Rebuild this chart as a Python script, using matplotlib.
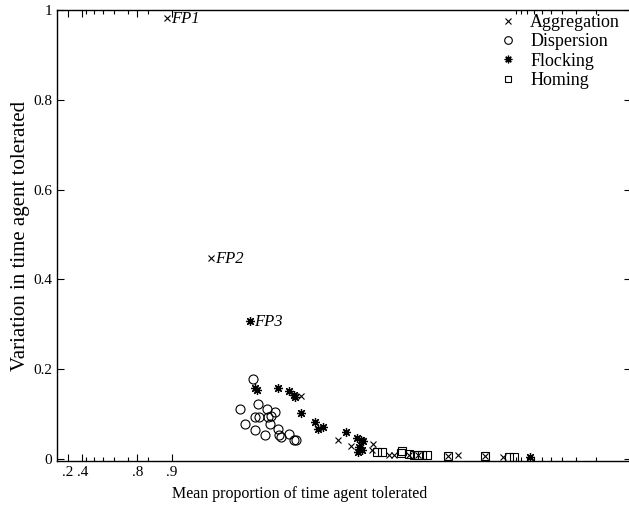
import matplotlib
matplotlib.use("Agg")
import matplotlib.pyplot as plt
import numpy as np
from matplotlib.lines import Line2D

plt.rcParams['font.family'] = ['Liberation Serif', 'DejaVu Serif']

# Aggregation (x)
agg_x = [0.890, 0.9546, 0.99257, 0.99644, 0.99723, 0.99822, 0.99818, 0.99872,
         0.99883, 0.999136, 0.999279, 0.999608, 0.999676, 0.999813, 0.999869]
agg_y = [0.982, 0.448, 0.140, 0.041, 0.029, 0.033, 0.020, 0.009,
         0.009, 0.009, 0.008, 0.007, 0.009, 0.007, 0.005]

# Dispersion (o)
disp_x = [0.9802, 0.9821, 0.9743, 0.9851, 0.9874, 0.9813, 0.9827, 0.9855, 0.9864,
          0.9770, 0.9861, 0.9813, 0.9881, 0.9904, 0.9847, 0.9883, 0.9888, 0.9913, 0.9918]
disp_y = [0.178, 0.121, 0.110, 0.110, 0.104, 0.093, 0.093, 0.093, 0.095,
          0.078, 0.077, 0.063, 0.066, 0.056, 0.052, 0.054, 0.048, 0.042, 0.042]

# Flocking (*)
flock_x = [0.9793, 0.9811, 0.9818, 0.9881, 0.9904, 0.9913, 0.9915, 0.99257, 0.99432,
           0.99469, 0.99516, 0.99698, 0.99758, 0.99773, 0.99784, 0.99765, 0.99781,
           0.99763, 0.999924]
flock_y = [0.307, 0.157, 0.154, 0.157, 0.151, 0.143, 0.137, 0.102, 0.082,
           0.066, 0.070, 0.060, 0.046, 0.042, 0.039, 0.026, 0.020, 0.014, 0.004]

# Homing (square)
hom_x = [0.99838, 0.99853, 0.99899, 0.99902, 0.999142, 0.999224, 0.999284,
         0.999344, 0.999407, 0.999608, 0.999813, 0.999885, 0.999895]
hom_y = [0.015, 0.016, 0.013, 0.018, 0.011, 0.009, 0.009,
         0.009, 0.009, 0.007, 0.007, 0.005, 0.005]

fp_labels = ['FP1', 'FP2', 'FP3']
fp_x = [agg_x[0], agg_x[1], flock_x[0]]
fp_y = [agg_y[0], agg_y[1], flock_y[0]]

xticks = [0.2, 0.4, 0.8, 0.9]
xtick_labels = ['.2', '.4', '.8', '.9']
yticks = [0, 0.2, 0.4, 0.6, 0.8, 1]
ytick_labels = ['0', '0.2', '0.4', '0.6', '0.8', '1']


def fwd(x):
    x = np.clip(np.asarray(x, dtype=float), None, 1 - 1e-12)
    return -np.log10(1 - x)


def inv(t):
    return 1 - 10 ** (-np.asarray(t, dtype=float))


W, H = 629, 508
fig = plt.figure(figsize=(W / 100, H / 100), dpi=100)
ax = fig.add_axes([57 / W, 47 / H, 574 / W, 451 / H])
ax.set_xscale('function', functions=(fwd, inv))

ast = (8, 2, 0)
ax.plot(agg_x, agg_y, 'x', color='k', ms=4.5, mew=0.8, ls='none')
ax.plot(disp_x, disp_y, 'o', mfc='none', mec='k', ms=6.5, mew=0.8, ls='none')
ax.plot(flock_x, flock_y, marker=ast, color='k', ms=6.5, mew=0.9, ls='none')
ax.plot(hom_x, hom_y, 's', mfc='none', mec='k', ms=5.5, mew=0.8, ls='none')

for lab, px, py in zip(fp_labels, fp_x, fp_y):
    ax.annotate(lab, (px, py), xytext=(3, -1), textcoords='offset points',
                ha='left', va='center', fontsize=12, style='italic')

ax.set_xlim(0, 0.99999)
ax.set_ylim(-0.005, 1)
ax.set_xticks(xticks)
ax.set_xticklabels(xtick_labels)
minor = [0.44, 0.52, 0.60, 0.68, 0.76, 0.84, 0.9999] + [1 - m * 1e-5 for m in range(2, 10)]
ax.set_xticks(minor, minor=True)
ax.set_yticks(yticks)
ax.set_yticklabels(ytick_labels)

ax.tick_params(which='both', direction='in', top=True, right=True, labelsize=11, width=0.8)
ax.tick_params(which='major', length=5)
ax.tick_params(which='minor', length=3)
for s in ax.spines.values():
    s.set_linewidth(1.0)

ax.set_xlabel('Mean proportion of time agent tolerated', fontsize=11.5)
ax.xaxis.set_label_coords((300 - 57) / 574, -0.055)
ax.set_ylabel('Variation in time agent tolerated', fontsize=15, labelpad=2)

handles = [
    Line2D([], [], marker='x', color='k', ls='none', ms=4, mew=0.8),
    Line2D([], [], marker='o', mfc='none', mec='k', ls='none', ms=5.5, mew=0.8),
    Line2D([], [], marker=ast, color='k', ls='none', ms=5.5, mew=0.9),
    Line2D([], [], marker='s', mfc='none', mec='k', ls='none', ms=5, mew=0.8),
]
fig.legend(handles, ['Aggregation', 'Dispersion', 'Flocking', 'Homing'],
           loc='upper left', bbox_to_anchor=(499 / W, 1 - 14 / H), frameon=False,
           fontsize=13, handlelength=1.0, handletextpad=0.72, labelspacing=0.13,
           borderpad=0, borderaxespad=0)

fig.savefig('out.png', dpi=100)
